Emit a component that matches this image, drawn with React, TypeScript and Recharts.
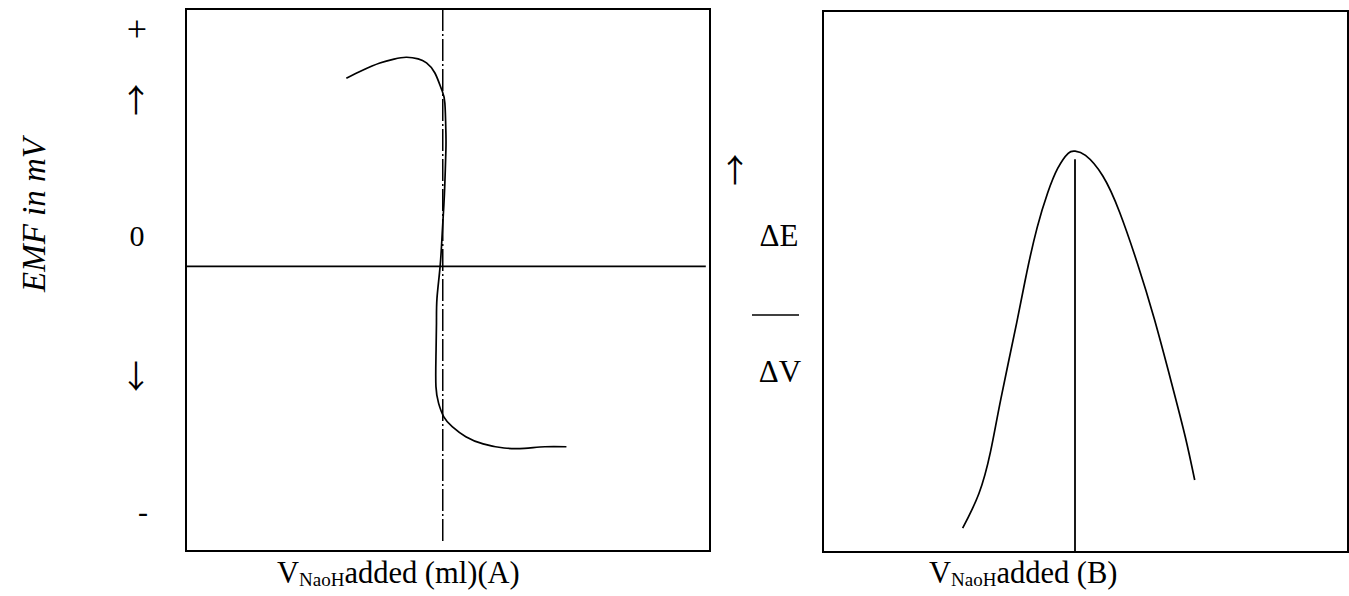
import React from "react";
import { LineChart, Line, XAxis, YAxis, ReferenceLine, ReferenceArea } from "recharts";

// Panel A: potentiometric titration curve (EMF vs volume), x 0..100, y -110..100
const curveAX = [30.6, 33.7, 37.0, 39.7, 42.0, 44.3, 45.9, 47.5, 48.8, 49.4, 49.6, 49.6, 49.4, 49.2, 48.9, 48.5, 47.9, 47.8, 47.7, 47.7, 48.2, 49.2, 50.8, 53.4, 56.7, 60.7, 64.6, 68.5, 72.6];
const curveAY = [73.2, 76.3, 79.1, 80.6, 81.3, 80.7, 79.1, 75.2, 68.7, 63.6, 52.0, 45.5, 32.6, 23.7, 13.2, 0.4, -12.0, -21.7, -34.7, -46.3, -52.7, -58.0, -61.8, -65.7, -68.5, -70.1, -70.2, -69.6, -69.6];
const equivalenceA = 49;

// Panel B: first derivative curve (dE/dV vs volume), x 0..100, y 0..100
const curveBX = [26.6, 29.7, 31.9, 33.9, 36.9, 38.8, 40.8, 42.8, 44.7, 46.7, 48.0, 50.0, 53.3, 56.5, 59.8, 63.1, 66.4, 69.0, 70.8];
const curveBY = [4.4, 10.8, 18.5, 28.4, 42.4, 51.6, 60.0, 66.4, 70.9, 73.7, 74.1, 73.3, 69.5, 62.8, 53.6, 43.1, 31.2, 21.3, 13.3];
const peakB = { x: 48, top: 72.6 };

const leftMarks = ["+", "↑", "0", "↓", "-"];

const dataA = curveAX.map((x, i) => ({ x, y: curveAY[i] }));
const dataB = curveBX.map((x, i) => ({ x, y: curveBY[i] }));

const FONT = "'Liberation Serif', 'Times New Roman', serif";
const ARROW_FONT = "'Noto Sans CJK JP', 'DejaVu Sans', sans-serif";
const M = 5;

export default function App() {
  const markPos = [
    { x: 137, y: 29, size: 36, font: FONT },
    { x: 136, y: 98, size: 32, font: ARROW_FONT },
    { x: 137, y: 235, size: 30, font: FONT },
    { x: 136, y: 374, size: 32, font: ARROW_FONT },
    { x: 143, y: 511, size: 30, font: FONT },
  ];
  return (
    <div style={{ position: "absolute", left: 0, top: 0, width: 1349, height: 596, background: "#fff", fontFamily: FONT }}>
      <div style={{ position: "absolute", left: 186 - M, top: 9 - M }}>
        <LineChart width={524 + 2 * M} height={542 + 2 * M} margin={{ top: M, right: M, bottom: M, left: M }}>
          <XAxis type="number" dataKey="x" domain={[0, 100]} hide allowDataOverflow />
          <YAxis type="number" dataKey="y" domain={[-110, 100]} hide allowDataOverflow />
          <ReferenceArea x1={0} x2={100} y1={-110} y2={100} fill="none" stroke="#000" strokeWidth={2} ifOverflow="visible" />
          <ReferenceLine segment={[{ x: 0, y: 0.3 }, { x: 99.2, y: 0.3 }]} stroke="#000" strokeWidth={1.8} />
          <ReferenceLine segment={[{ x: equivalenceA, y: 100 }, { x: equivalenceA, y: -107 }]} stroke="#000" strokeWidth={1.5} strokeDasharray="22 3 2 3" />
          <Line data={dataA} type="natural" dataKey="y" stroke="#000" strokeWidth={1.7} dot={false} isAnimationActive={false} />
        </LineChart>
      </div>
      <div style={{ position: "absolute", left: 823 - M, top: 11 - M }}>
        <LineChart width={525 + 2 * M} height={541 + 2 * M} margin={{ top: M, right: M, bottom: M, left: M }}>
          <XAxis type="number" dataKey="x" domain={[0, 100]} hide allowDataOverflow />
          <YAxis type="number" dataKey="y" domain={[0, 100]} hide allowDataOverflow />
          <ReferenceArea x1={0} x2={100} y1={0} y2={100} fill="none" stroke="#000" strokeWidth={2} ifOverflow="visible" />
          <ReferenceLine segment={[{ x: peakB.x, y: 0 }, { x: peakB.x, y: peakB.top }]} stroke="#000" strokeWidth={1.8} />
          <Line data={dataB} type="natural" dataKey="y" stroke="#000" strokeWidth={1.7} dot={false} isAnimationActive={false} />
        </LineChart>
      </div>
      <svg width={1349} height={596} style={{ position: "absolute", left: 0, top: 0, pointerEvents: "none" }}>
        {leftMarks.map((m, i) => (
          <text
            key={i}
            x={markPos[i].x}
            y={markPos[i].y}
            textAnchor="middle"
            dominantBaseline="central"
            fontSize={markPos[i].size}
            fontFamily={markPos[i].font}
            fill="#000"
          >
            {m}
          </text>
        ))}
        <text x={34} y={215} transform="rotate(-90 34 215)" textAnchor="middle" dominantBaseline="central" fontSize={33} fontStyle="italic" fontFamily={FONT} fill="#000">
          EMF in mV
        </text>
        <text x={735} y={168} textAnchor="middle" dominantBaseline="central" fontSize={32} fontFamily={ARROW_FONT} fill="#000">↑</text>
        <text x={779} y={235} textAnchor="middle" dominantBaseline="central" fontSize={31} fontFamily={FONT} fill="#000">ΔE</text>
        <line x1={752} y1={315} x2={799} y2={315} stroke="#000" strokeWidth={1.5} />
        <text x={780} y={371} textAnchor="middle" dominantBaseline="central" fontSize={31} fontFamily={FONT} fill="#000">ΔV</text>
        <text x={277} y={583} fontSize={30.5} fontFamily={FONT} fill="#000">
          V<tspan fontSize={19} dy={3}>NaoH</tspan><tspan dy={-3}>added (ml)(A)</tspan>
        </text>
        <text x={929} y={583} fontSize={30.5} fontFamily={FONT} fill="#000">
          V<tspan fontSize={19} dy={3}>NaoH</tspan><tspan dy={-3}>added (B)</tspan>
        </text>
      </svg>
    </div>
  );
}
